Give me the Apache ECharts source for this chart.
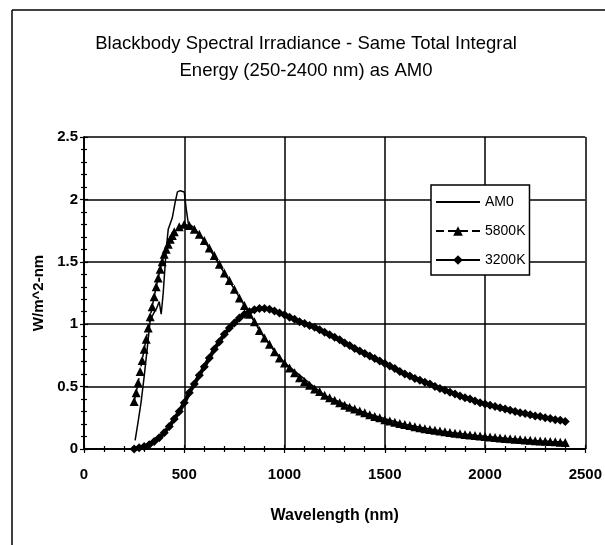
<!DOCTYPE html>
<html>
<head>
<meta charset="utf-8">
<script src="https://cdn.jsdelivr.net/npm/echarts@6/dist/echarts.min.js"></script>
<style>html,body{margin:0;padding:0;background:#fff;}#c{width:605px;height:545px;}</style>
</head>
<body>
<div id="c"></div>
<script>
// ---- data ----
var titleLines = ['Blackbody Spectral Irradiance - Same Total Integral', 'Energy (250-2400 nm) as AM0'];
var seriesNames = ['AM0', '5800K', '3200K'];
var xTicks = [0, 500, 1000, 1500, 2000, 2500];
var yTicks = [0, 0.5, 1, 1.5, 2, 2.5];

var wlAM0 = [255, 270, 285, 300, 315, 330, 345, 360, 375, 385, 395, 410, 420, 440, 455, 466, 480, 500, 510, 520, 550, 600, 700, 800, 900, 1000, 1200, 1400, 1600, 1800, 2000, 2200, 2400];
var vAM0  = [0.07, 0.22, 0.38, 0.58, 0.80, 1.03, 1.08, 1.12, 1.18, 1.08, 1.25, 1.60, 1.76, 1.85, 1.98, 2.06, 2.07, 2.06, 1.92, 1.81, 1.77, 1.67, 1.41, 1.15, 0.89, 0.69, 0.43, 0.29, 0.196, 0.138, 0.10, 0.073, 0.053];

var wl5800 = [250, 260, 270, 280, 290, 300, 310, 320, 330, 340, 350, 360, 370, 380, 390, 400, 410, 420, 430, 440, 450,
  475, 500, 525, 550, 575, 600, 625, 650, 675, 700, 725, 750, 775, 800, 825, 850, 875, 900, 925, 950, 975,
  1000, 1025, 1050, 1075, 1100, 1125, 1150, 1175, 1200, 1225, 1250, 1275, 1300, 1325, 1350, 1375, 1400, 1425, 1450, 1475,
  1500, 1525, 1550, 1575, 1600, 1625, 1650, 1675, 1700, 1725, 1750, 1775, 1800, 1825, 1850, 1875, 1900, 1925, 1950, 1975,
  2000, 2025, 2050, 2075, 2100, 2125, 2150, 2175, 2200, 2225, 2250, 2275, 2300, 2325, 2350, 2375, 2400];
var v5800 = [0.38, 0.45, 0.53, 0.62, 0.71, 0.80, 0.88, 0.97, 1.06, 1.14, 1.22, 1.30, 1.37, 1.44, 1.50, 1.56, 1.60, 1.64, 1.68, 1.71, 1.74,
  1.78, 1.80, 1.79, 1.76, 1.72, 1.67, 1.61, 1.55, 1.48, 1.41, 1.35, 1.28, 1.21, 1.15, 1.08, 1.02, 0.95, 0.89, 0.84, 0.78, 0.73,
  0.69, 0.65, 0.61, 0.57, 0.54, 0.51, 0.48, 0.46, 0.43, 0.41, 0.39, 0.37, 0.35, 0.335, 0.32, 0.305, 0.29, 0.275, 0.26, 0.25,
  0.235, 0.225, 0.215, 0.205, 0.196, 0.188, 0.178, 0.170, 0.163, 0.156, 0.150, 0.144, 0.138, 0.132, 0.127, 0.122, 0.117, 0.112, 0.108, 0.104,
  0.100, 0.096, 0.092, 0.089, 0.085, 0.082, 0.079, 0.076, 0.073, 0.070, 0.067, 0.065, 0.062, 0.060, 0.058, 0.055, 0.053];

var wl3200 = [250, 275, 300, 325, 350, 375, 400, 425, 450, 475, 500, 525, 550, 575, 600, 625, 650, 675, 700, 725, 750, 775, 800, 825, 850, 875, 900, 925, 950, 975,
  1000, 1025, 1050, 1075, 1100, 1125, 1150, 1175, 1200, 1225, 1250, 1275, 1300, 1325, 1350, 1375, 1400, 1425, 1450, 1475,
  1500, 1525, 1550, 1575, 1600, 1625, 1650, 1675, 1700, 1725, 1750, 1775, 1800, 1825, 1850, 1875, 1900, 1925, 1950, 1975,
  2000, 2025, 2050, 2075, 2100, 2125, 2150, 2175, 2200, 2225, 2250, 2275, 2300, 2325, 2350, 2375, 2400];
var v3200 = [0.00, 0.01, 0.02, 0.035, 0.06, 0.09, 0.13, 0.18, 0.24, 0.30, 0.37, 0.45, 0.52, 0.59, 0.66, 0.73, 0.80, 0.86, 0.92, 0.97, 1.01, 1.05, 1.08, 1.10, 1.115, 1.125, 1.125, 1.12, 1.105, 1.09,
  1.075, 1.055, 1.04, 1.02, 1.005, 0.99, 0.975, 0.955, 0.935, 0.915, 0.895, 0.875, 0.85, 0.83, 0.805, 0.785, 0.765, 0.745, 0.725, 0.705,
  0.685, 0.665, 0.645, 0.62, 0.60, 0.585, 0.565, 0.55, 0.535, 0.52, 0.50, 0.485, 0.47, 0.455, 0.44, 0.425, 0.41, 0.40, 0.385, 0.37,
  0.36, 0.35, 0.34, 0.33, 0.32, 0.31, 0.30, 0.29, 0.285, 0.275, 0.265, 0.26, 0.25, 0.245, 0.235, 0.23, 0.22];

function pairs(xs, ys) { return xs.map(function (x, i) { return [x, ys[i]]; }); }

var FONT = '"Liberation Sans", Arial, sans-serif';
var chart = echarts.init(document.getElementById('c'), null, {renderer: 'canvas'});

function xAxisDef(inside, labels) {
  return {
    type: 'value', min: xTicks[0], max: xTicks[xTicks.length - 1], interval: xTicks[1] - xTicks[0],
    position: 'bottom',
    name: labels ? 'Wavelength (nm)' : '', nameLocation: 'middle', nameGap: 59,
    nameTextStyle: {fontFamily: FONT, fontSize: 16, fontWeight: 'bold', color: '#000'},
    axisLine: {show: true, onZero: false, lineStyle: {color: '#000', width: 1.5}},
    axisTick: {show: true, inside: inside, length: 4, lineStyle: {color: '#000', width: 1.2}},
    minorTick: {show: true, splitNumber: 5, length: 3, lineStyle: {color: '#000', width: 1.2}},
    axisLabel: {show: labels, margin: 18, fontFamily: FONT, fontSize: 15, fontWeight: 'bold', color: '#000',
      formatter: function (v) { return String(v); }},
    splitLine: {show: labels, lineStyle: {color: '#000', width: 1.5}},
    minorSplitLine: {show: false}
  };
}
function yAxisDef(inside, labels) {
  return {
    type: 'value', min: yTicks[0], max: yTicks[yTicks.length - 1], interval: yTicks[1] - yTicks[0],
    position: 'left',
    name: labels ? 'W/m^2-nm' : '', nameLocation: 'middle', nameGap: 27, nameRotate: 90,
    nameTextStyle: {fontFamily: FONT, fontSize: 15, fontWeight: 'bold', color: '#000'},
    axisLine: {show: true, onZero: false, lineStyle: {color: '#000', width: 1.5}},
    axisTick: {show: true, inside: inside, length: 4, lineStyle: {color: '#000', width: 1.2}},
    minorTick: {show: true, splitNumber: 5, length: 3, lineStyle: {color: '#000', width: 1.2}},
    axisLabel: {show: labels, margin: 6, fontFamily: FONT, fontSize: 15, fontWeight: 'bold', color: '#000',
      formatter: function (v) { return String(v); }},
    splitLine: {show: labels, lineStyle: {color: '#000', width: 1.5}},
    minorSplitLine: {show: false}
  };
}

chart.setOption({
  animation: false,
  backgroundColor: '#fff',
  title: {
    text: titleLines.join('\n'), left: 301, top: 25, textAlign: 'center',
    textStyle: {fontFamily: FONT, fontSize: 18.5, fontWeight: 'normal', color: '#000', lineHeight: 27}
  },
  grid: {left: 84, right: 19, top: 137, bottom: 96, containLabel: false},
  xAxis: [xAxisDef(false, true), xAxisDef(true, false)],
  yAxis: [yAxisDef(false, true), yAxisDef(true, false)],
  legend: {
    orient: 'vertical', left: 431, top: 185,
    padding: [10, 4, 8, 4], itemGap: 15, itemWidth: 44, itemHeight: 12,
    backgroundColor: '#fff', borderColor: '#000', borderWidth: 1.5, borderRadius: 0,
    textStyle: {fontFamily: FONT, fontSize: 14, color: '#000'},
    data: [
      {name: seriesNames[0], itemStyle: {opacity: 0}},
      {name: seriesNames[1]},
      {name: seriesNames[2]}
    ]
  },
  graphic: [
    {type: 'line', shape: {x1: 12, y1: 10, x2: 12, y2: 545}, style: {stroke: '#000', lineWidth: 1.5}},
    {type: 'line', shape: {x1: 12, y1: 10, x2: 605, y2: 10}, style: {stroke: '#000', lineWidth: 1.5}}
  ],
  series: [
    {name: seriesNames[0], type: 'line', data: pairs(wlAM0, vAM0), showSymbol: false, symbol: 'none',
     lineStyle: {color: '#000', width: 1.5}, itemStyle: {color: '#000'}, z: 2},
    {name: seriesNames[1], type: 'line', data: pairs(wl5800, v5800), symbol: 'triangle', symbolSize: 9,
     lineStyle: {color: '#000', width: 1.5, type: 'dashed'}, itemStyle: {color: '#000'}, z: 3},
    {name: seriesNames[2], type: 'line', data: pairs(wl3200, v3200), symbol: 'diamond', symbolSize: 9,
     lineStyle: {color: '#000', width: 4}, itemStyle: {color: '#000'}, z: 4}
  ]
});
</script>
</body>
</html>
